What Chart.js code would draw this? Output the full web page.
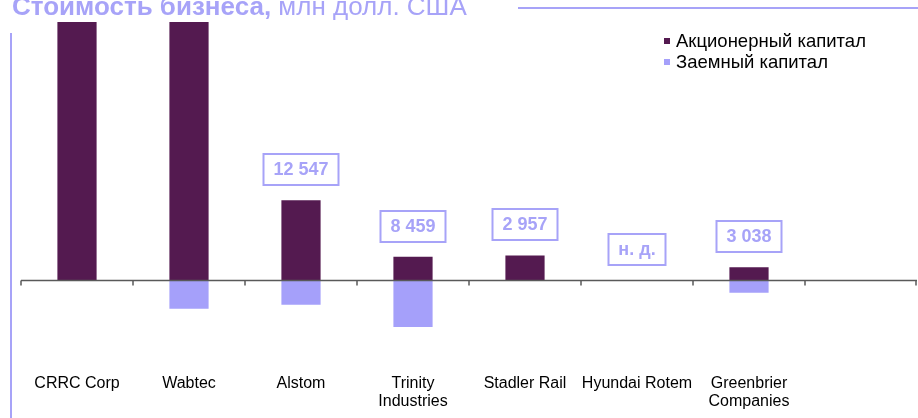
<!DOCTYPE html>
<html>
<head>
<meta charset="utf-8">
<script src="https://cdn.jsdelivr.net/npm/chart.js@4"></script>
<style>
body { margin: 0; background: #fff; font-family: Arial, "Liberation Sans", sans-serif; }
#wrap { position: relative; width: 918px; height: 418px; overflow: hidden; }
#title { position: absolute; left: 12px; top: -7px; font-size: 26px; line-height: 26px; color: #A7A3F8; white-space: nowrap; }
#topline { position: absolute; left: 518px; top: 7px; width: 400px; height: 2px; background: #A7A3F8; }
#sideline { position: absolute; left: 10px; top: 33px; width: 2px; height: 385px; background: #A7A3F8; }
#legend { position: absolute; left: 664px; top: 31px; font-size: 18.5px; color: #000; }
.li { height: 20.5px; display: flex; align-items: center; white-space: nowrap; }
.sw { width: 6px; height: 6px; margin-right: 6px; }
canvas { position: absolute; left: 0; top: 0; }
</style>
</head>
<body>
<div id="wrap">
  <canvas id="chart" width="918" height="418"></canvas>
  <div id="title"><b>Стоимость бизнеса,</b> млн долл. США</div>
  <div id="topline"></div>
  <div id="sideline"></div>
  <div id="legend"></div>
</div>
<script>
// data, млн долл. США
var categories = ['CRRC Corp', 'Wabtec', 'Alstom', ['Trinity', 'Industries'], 'Stadler Rail', 'Hyundai Rotem', ['Greenbrier', 'Companies'], ''];
var equity = [35000, 32000, 9580, 2800, 2957, null, 1520, null];
var debt = [0, 3440, 2967, 5659, 0, null, 1518, null];   // drawn below zero
var evLabels = ['', '', '12 547', '8 459', '2 957', 'н. д.', '3 038', ''];
var seriesNames = ['Акционерный капитал', 'Заемный капитал'];
var colors = ['#541A50', '#A5A0FA'];
var yMin = -10450, yMax = 31000;

var accent = '#A7A3F8';

// legend
var legend = document.getElementById('legend');
seriesNames.forEach(function(name, i) {
  var row = document.createElement('div');
  row.className = 'li';
  row.innerHTML = '<span class="sw" style="background:' + colors[i] + '"></span>' + name;
  legend.appendChild(row);
});

var zeroLine = {
  id: 'zeroLine',
  afterDatasetsDraw: function(chart) {
    var ctx = chart.ctx, x = chart.scales.x, y = chart.scales.y, a = chart.chartArea;
    var y0 = Math.round(y.getPixelForValue(0)) + 0.5;
    var half = (x.getPixelForValue(1) - x.getPixelForValue(0)) / 2;
    ctx.save();
    ctx.strokeStyle = '#595959';
    ctx.lineWidth = 1.5;
    ctx.beginPath();
    ctx.moveTo(a.left, y0);
    ctx.lineTo(a.right, y0);
    for (var i = 0; i <= categories.length; i++) {
      var px = Math.round(x.getPixelForValue(i) - half);
      if (i == categories.length) px = Math.round(a.right) - 1;
      ctx.moveTo(px, y0);
      ctx.lineTo(px, y0 + 5);
    }
    ctx.stroke();

    // boxes with enterprise value
    ctx.font = 'bold 18px Arial, "Liberation Sans", sans-serif';
    ctx.textAlign = 'center';
    ctx.textBaseline = 'middle';
    for (var j = 0; j < evLabels.length; j++) {
      if (!evLabels[j]) continue;
      var cx = x.getPixelForValue(j);
      var top = y.getPixelForValue(equity[j] || 0);
      var w = Math.round(ctx.measureText(evLabels[j]).width + 20);
      var h = 31;
      var by = Math.round(top - 15 - h);
      ctx.fillStyle = '#fff';
      ctx.fillRect(cx - w / 2, by, w, h);
      ctx.strokeStyle = accent;
      ctx.lineWidth = 2;
      ctx.strokeRect(cx - w / 2, by, w, h);
      ctx.fillStyle = accent;
      ctx.fillText(evLabels[j], cx, by + h / 2 + 1);
    }
    ctx.restore();
  }
};

new Chart(document.getElementById('chart'), {
  type: 'bar',
  data: {
    labels: categories,
    datasets: [
      { label: seriesNames[0], data: equity, backgroundColor: colors[0] },
      { label: seriesNames[1], data: debt.map(function(v) { return v == null ? null : -v; }), backgroundColor: colors[1] }
    ]
  },
  options: {
    responsive: false,
    animation: false,
    layout: { padding: { left: 21, right: 1, top: 22, bottom: 0 } },
    datasets: { bar: { barPercentage: 0.35, categoryPercentage: 1 } },
    plugins: { legend: { display: false }, tooltip: { enabled: false } },
    scales: {
      x: {
        stacked: true,
        grid: { display: false, drawTicks: false },
        border: { display: false },
        ticks: {
          color: '#000',
          font: { family: 'Arial, "Liberation Sans", sans-serif', size: 16, lineHeight: 1.1 },
          padding: 8, maxRotation: 0, autoSkip: false
        },
        afterFit: function(s) { s.height = 51; }
      },
      y: { stacked: true, display: false, min: yMin, max: yMax }
    }
  },
  plugins: [zeroLine]
});
</script>
</body>
</html>
